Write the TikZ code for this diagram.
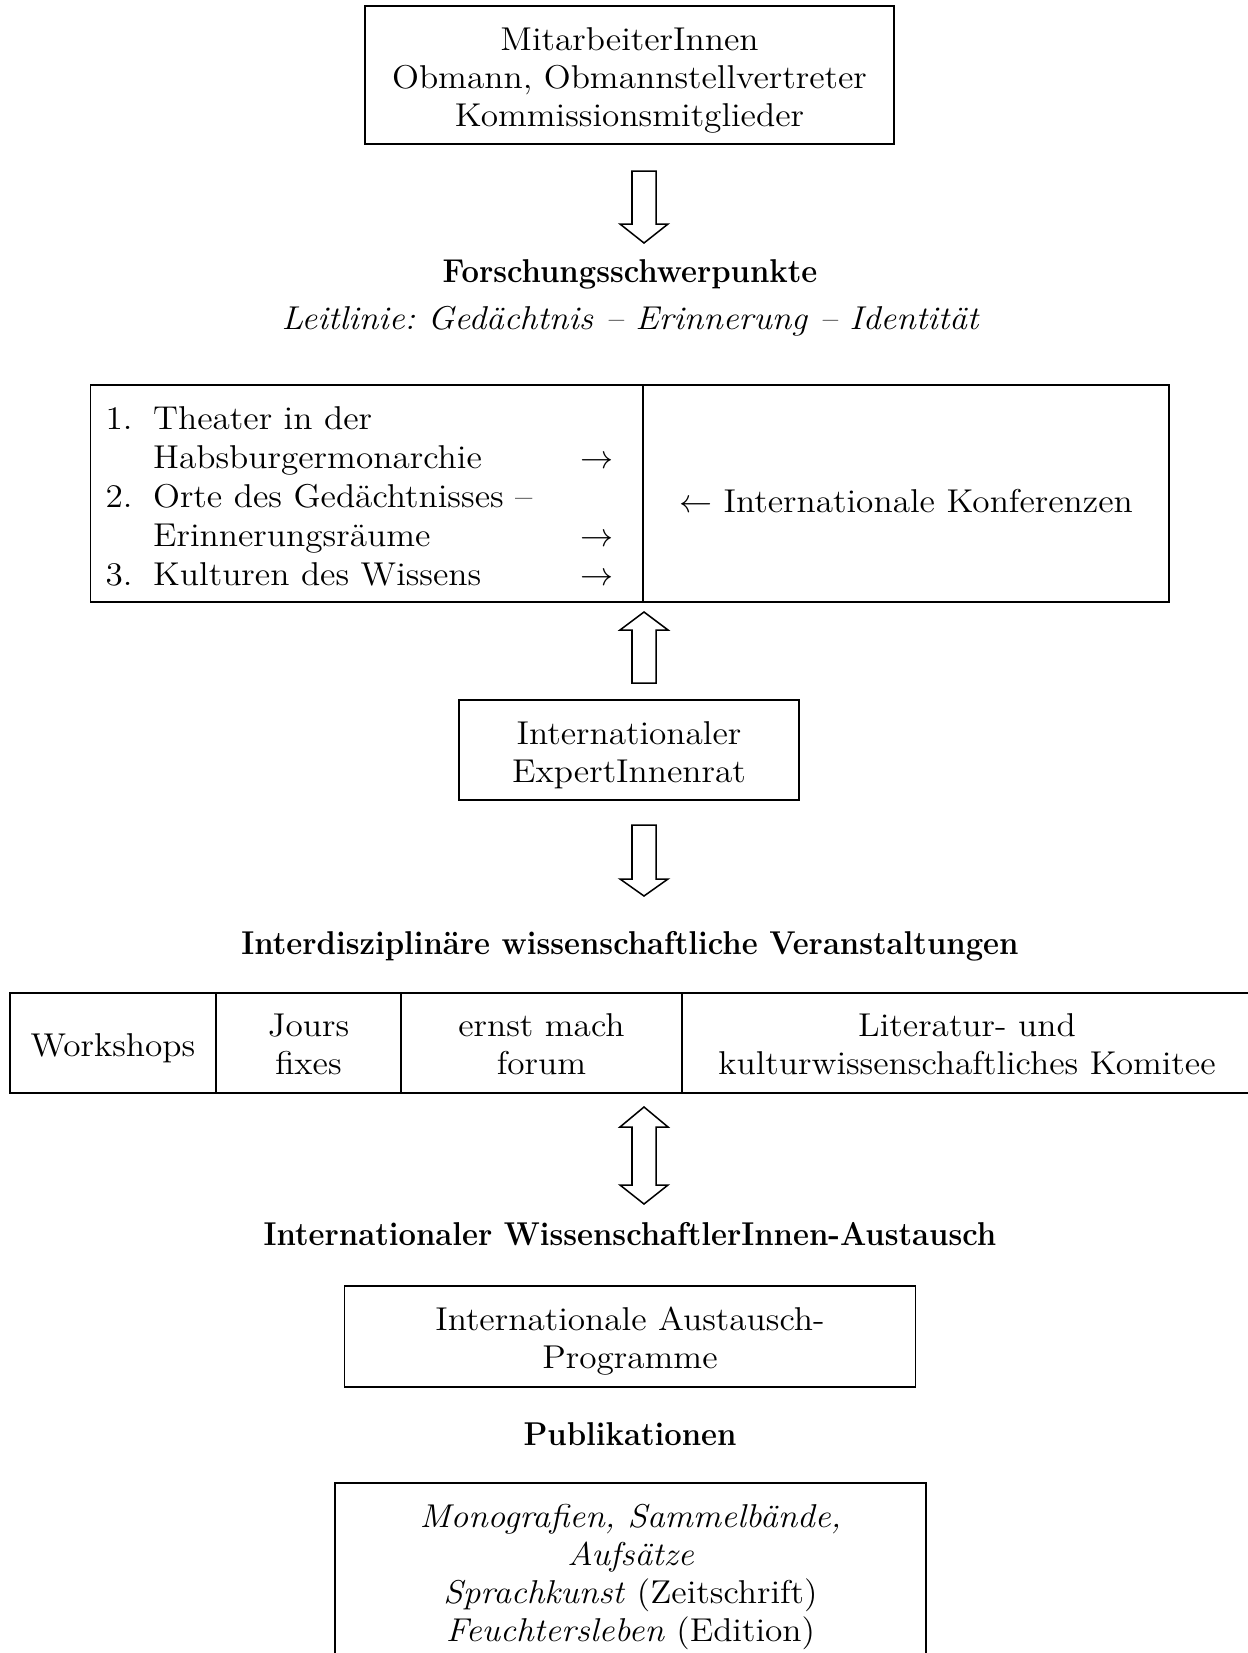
\documentclass[tikz,border=0pt]{standalone}
\usepackage{fontspec}
\setmainfont{Latin Modern Roman}[FakeStretch=1.07]
\newfontfamily\headfont{Latin Modern Roman}[FakeStretch=0.94]
\frenchspacing
\def\pxu{0.3636pt}
\tikzset{
  every node/.style={font=\fontsize{12}{13.8}\selectfont},
  box/.style={draw, line width=0.55pt, inner sep=0pt},
  txt/.style={inner sep=0pt, align=center, execute at begin node=\strut, execute at end node=\strut},
  sz/.style 2 args={minimum width={#1*\pxu}, minimum height={#2*\pxu}},
  heading/.style={anchor=base, inner sep=0pt, font=\fontsize{12}{13.8}\selectfont\headfont\bfseries},
  blockarrow/.style={draw, line width=0.55pt, fill=white, line join=miter}
}
\begin{document}
\begin{tikzpicture}[x=0.3636pt, y=-0.3636pt]
\useasboundingbox (0,0) rectangle (1247,1653);

% top box
\node[box, sz={529}{138}] (staff) at (629.5,75) {};
\node[txt] (staff-t) at ([yshift=-2.7pt]staff.center)
  {MitarbeiterInnen\\Obmann, Obmannstellvertreter\\Kommissionsmitglieder};

% arrow 1 (down)
\draw[blockarrow] (632,171) -- (656,171) -- (656,224) -- (668,224) -- (644,243) -- (620,224) -- (632,224) -- cycle;

\node[heading] (fsp) at (630,282) {Forschungsschwerpunkte};
\node[anchor=base, inner sep=0pt] (leit) at (630,329)
  {\itshape Leitlinie: Gedächtnis -- Erinnerung -- Identität};

% table 1
\node[box, sz={552.5}{217}] (themes) at (366.75,493.5) {};
\node[box, sz={526}{217}] (conf) at (906,493.5) {};
\node[txt] (conf-t) at ([yshift=-4.1pt]conf.center) {$\leftarrow$ Internationale Konferenzen};
\node[anchor=west, inner sep=0pt, font=\fontsize{12}{14.2}\selectfont] (themelist) at (105,500)
  {\begin{tabular}{@{}p{17.3pt}@{}p{155.5pt}@{}c@{}}
   1. & Theater in der & \\
      & Habsburgermonarchie & $\rightarrow$\\
   2. & Orte des Gedächtnisses -- & \\
      & Erinnerungsräume & $\rightarrow$\\
   3. & Kulturen des Wissens & $\rightarrow$
   \end{tabular}};

% arrow 2 (up)
\draw[blockarrow] (632,683) -- (656,683) -- (656,630) -- (668,630) -- (644,612) -- (620,630) -- (632,630) -- cycle;

\node[box, sz={340}{100}] (expert) at (629,750) {};
\node[txt] (expert-t) at ([yshift=-2.9pt]expert.center) {Internationaler\\ExpertInnenrat};

% arrow 3 (down)
\draw[blockarrow] (632,825) -- (656,825) -- (656,879) -- (668,879) -- (644,896) -- (620,879) -- (632,879) -- cycle;

\node[heading] (ivs) at (630,954) {Interdisziplinäre wissenschaftliche Veranstaltungen};

% table 2
\node[box, sz={206}{100}] (ws) at (113,1043) {};
\node[box, sz={185}{100}] (jf) at (308.5,1043) {};
\node[box, sz={281}{100}] (emf) at (541.5,1043) {};
\node[box, sz={570}{100}] (lk) at (967,1043) {};
\node[txt] (ws-t) at ([yshift=-2.2pt]ws.center) {Workshops};
\node[txt] (jf-t) at ([yshift=-2.4pt]jf.center) {Jours\\fixes};
\node[txt] (emf-t) at ([yshift=-2.4pt]emf.center) {ernst mach\\forum};
\node[txt] (lk-t) at ([yshift=-2.4pt]lk.center) {Literatur- und\\kulturwissenschaftliches Komitee};

% double arrow
\draw[blockarrow] (632,1127) -- (620,1127) -- (644,1107) -- (668,1127) -- (656,1127) -- (656,1185) -- (668,1185) -- (644,1204) -- (620,1185) -- (632,1185) -- cycle;

\node[heading] (iwa) at (630,1245) {Internationaler WissenschaftlerInnen-Austausch};

\node[box, sz={571}{101}] (xchg) at (630,1336.5) {};
\node[txt] (xchg-t) at ([yshift=-2.4pt]xchg.center) {Internationale Austausch-\\Programme};

\node[heading] (publ) at (630,1445) {Publikationen};

\node[box, sz={591}{186}] (pub) at (630.5,1576) {};
\node[txt] (pub-t) at ([yshift=-1.0pt]pub.center)
  {\itshape Monografien, Sammelbände,\\\itshape Aufsätze\\\textit{Sprachkunst} (Zeitschrift)\\\textit{Feuchtersleben} (Edition)};
\end{tikzpicture}
\end{document}
